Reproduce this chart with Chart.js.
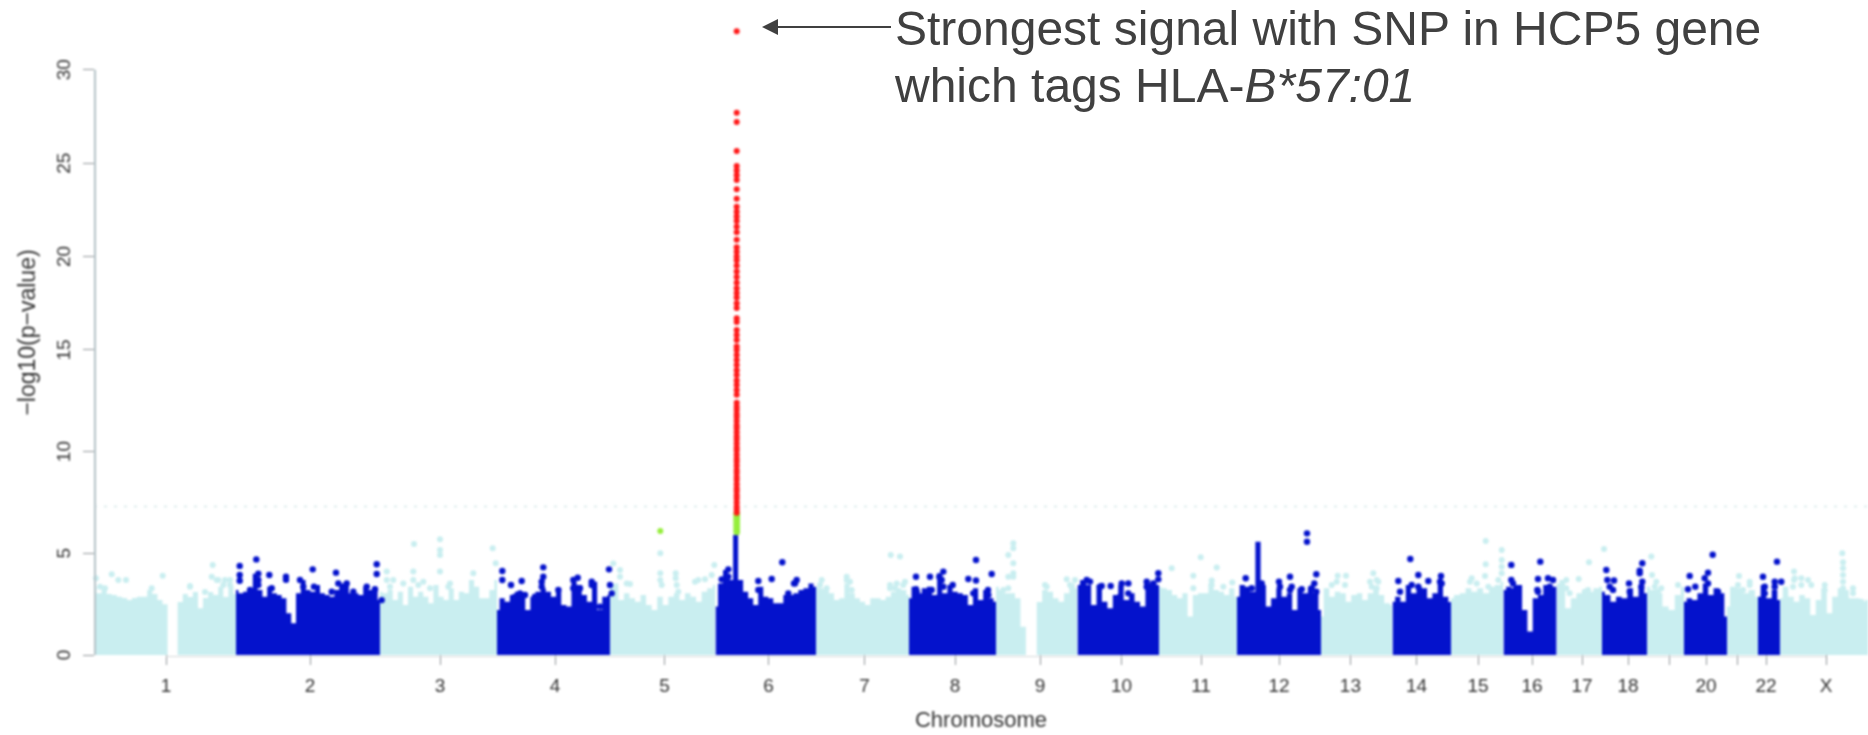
<!DOCTYPE html>
<html>
<head>
<meta charset="utf-8">
<title>Manhattan plot</title>
<script src="https://cdn.jsdelivr.net/npm/chart.js@4/dist/chart.umd.min.js"></script>
<style>
  html, body { margin: 0; padding: 0; background: #fff; }
  #wrap { position: relative; width: 1868px; height: 735px; overflow: hidden; }
  #plot { position: absolute; left: 0; top: 0; filter: blur(1px); }
  #note { position: absolute; left: 895px; top: 0; font-family: "Liberation Sans", Arial, sans-serif;
          font-size: 48px; line-height: 57px; color: #404040; white-space: nowrap; }
  #arrow { position: absolute; left: 755px; top: 10px; }
</style>
</head>
<body>
<div id="wrap">
  <canvas id="plot" width="1868" height="735"></canvas>
  <svg id="arrow" width="145" height="34">
    <line x1="20" y1="17" x2="136" y2="17" stroke="#404040" stroke-width="2"/>
    <polygon points="7,17 23,9 23,25" fill="#404040"/>
  </svg>
  <div id="note">Strongest signal with SNP in HCP5 gene<br>which tags HLA-<i>B*57:01</i></div>
</div>
<script>
// 染色体名称和刻度（x 轴单位：基因组累计位置）
var chromNames = ['1','2','3','4','5','6','7','8','9','10','11','12','13','14','15','16','17','18','','20','','22','X'];
var chromTicks = [72,216,346,461,570.5,674.6,770.5,861,946,1027.6,1107,1185,1256.4,1322.6,1384,1438,1488,1534,1575,1612,1643,1672,1732];
var chromEdges = [0,142,286,403,516,621.5,722,815,902,983.5,1065,1143,1227,1298.5,1357,1409.5,1462.6,1508,1553,1590,1633,1664,1686,1774];
var yTickStep = 5;
var threshold = 7.3;

// 每条染色体密集区的上沿 -log10(p)
var chr1Top = [3.36,3.03,3.3,3.0,2.95,2.87,2.8,2.7,2.8,2.87,2.87,3.2,3.0,2.7,2.5,0,0,2.6,3.0,2.85,3.1,2.3,2.8,3.1,2.95,3.35,2.85,3.4,3.0];
var chr2Top = [3.2,3.03,3.11,3.2,4.0,3.2,2.87,3.36,3.03,2.95,2.79,2.05,1.56,3.03,3.69,3.2,3.11,3.44,3.03,2.95,2.87,3.2,3.52,3.52,3.03,3.03,2.95,3.36,3.2,3.28,2.7];
var chr3Top = [3.11,3.03,3.2,2.7,3.11,2.46,3.36,2.87,3.11,2.87,2.54,3.44,2.87,2.7,3.28,2.7,3.11,3.03,3.69,3.36,2.79,2.79,3.2,3.69];
var chr4Top = [2.21,2.79,2.62,2.95,3.11,3.03,2.21,2.87,3.11,3.28,3.11,2.87,3.28,2.46,2.38,3.6,3.44,2.95,2.62,3.6,2.21,2.87,2.95];
var chr5Top = [3.36,3.52,2.7,3.03,2.79,2.62,2.95,2.46,2.21,2.87,2.46,2.87,3.03,2.7,3.03,2.87,2.62,3.11,3.28,3.44];
var chr6Top = [2.38,3.52,4.18,3.69,5.9,3.69,3.11,2.79,2.46,3.36,2.87,2.79,2.54,2.54,2.95,2.95,3.03,3.2,3.28,3.52,3.36];
var chr7Top = [3.36,3.28,3.2,3.03,2.7,2.79,3.52,3.03,2.79,2.62,2.46,2.79,2.79,2.7,2.87,3.11,3.28,3.2,2.95];
var chr8Top = [2.79,3.36,3.03,3.28,3.36,2.95,4.02,3.03,3.44,3.11,3.03,2.95,2.46,3.28,2.7,3.2,2.79,2.62];
var chr9Top = [3.36,3.2,3.03,3.03,2.79,1.39,0,0,2.6,3.2,3.11,2.79,2.62,3.03,3.52,3.28];
var chr10Top = [3.44,3.69,3.44,2.46,3.44,2.62,2.3,2.95,3.44,2.7,3.03,2.62,2.38,3.52,3.6,3.44];
var chr11Top = [3.36,3.28,3.2,2.95,2.79,3.03,1.89,2.95,3.03,3.03,3.52,3.2,3.11,2.95,3.28,2.87];
var chr12Top = [2.87,3.44,3.36,3.11,5.57,3.44,2.38,2.79,3.28,2.87,3.03,2.21,3.28,3.03,3.36,3.03,2.21];
var chr13Top = [1.89,3.28,2.87,3.11,3.03,2.62,2.95,3.03,2.7,3.03,3.36,2.95,2.54,2.46];
var chr14Top = [2.62,2.87,2.62,3.44,3.03,3.36,3.28,2.79,3.03,3.52,2.87,2.6];
var chr15Top = [2.79,2.95,3.03,3.28,3.11,3.28,3.03,3.36,3.44,3.6];
var chr16Top = [3.2,3.36,3.28,3.44,2.21,1.15,2.79,2.95,3.44,3.36,3.36];
var chr17Top = [3.52,3.69,2.3,2.79,3.03,3.03,3.11,3.28,3.36];
var chr18Top = [3.11,2.95,2.62,2.87,2.79,3.28,2.87,3.36,3.03];
var chr19Top = [3.36,3.2,3.03,2.38,2.21,2.95,3.36];
var chr20Top = [2.62,2.79,2.7,3.03,3.52,2.95,3.28,3.03,1.89];
var chr21Top = [2.38,3.36,3.28,3.03,3.2,2.87];
var chr22Top = [2.87,3.44,2.79,3.2,2.7];
var chrXTop = [2.79,3.36,2.87,2.62,2.95,2.79,1.97,2.7,3.28,2.05,2.87,3.28,3.2,2.79,2.79,2.62,2.7];
var chromTops = [chr1Top,chr2Top,chr3Top,chr4Top,chr5Top,chr6Top,chr7Top,chr8Top,chr9Top,chr10Top,chr11Top,chr12Top,chr13Top,chr14Top,chr15Top,chr16Top,chr17Top,chr18Top,chr19Top,chr20Top,chr21Top,chr22Top,chrXTop];

// 密集区上方的散点
var lightDotX = [2,17.7,24.3,32,68.7,118.7,117.7,124.3,131,136,96,6,11,57.7,96,111,122.7,129.3,136,320,346,346,346,319.3,346,292.7,299.3,309.3,329.3,292.7,296,319.3,324.3,336,354.3,398.7,401.7,379.3,356,566.3,566.3,566.3,581.7,581.7,536,526,526,620.3,601,519.3,611,532.7,567.7,582.7,584.3,604.3,617.7,796.7,806,727.7,752.7,756,802.7,811,796,752.7,757.7,796,801,809.3,726,732.7,919.3,919.3,914.3,919.3,919.3,919.3,914.3,951,972.7,977.7,914.3,909.3,952.7,976,981,1106.7,1077.7,1099.3,1122.7,1138.3,1117.7,1099.3,1117.7,1129.3,1243.7,1252,1279.3,1276,1284.3,1282.7,1237.7,1242.7,1251,1277.7,1282.7,1391.7,1391.7,1391,1407.7,1407.7,1407.7,1407.7,1377.7,1382.7,1376,1394.3,1404.3,1510,1495,1484.7,1472.3,1472.3,1475.7,1490.7,1494,1557.3,1558,1562.3,1567.3,1560.7,1564,1584,1645,1655.7,1644,1655.7,1649,1748.3,1749,1749,1749,1749,1700,1700,1707.3,1717.3,1730.7,1759,1699,1707.3,1714,1730.7,1749,1759,1767.3,1700.7];
var lightDotY = [3.77,3.97,3.69,3.69,3.9,4.43,3.85,3.69,3.69,3.44,3.39,3.36,3.28,3.28,3.36,3.1,3.69,3.44,3.69,5.46,5.69,5.16,4.92,4.1,4.1,4.1,3.69,3.52,3.6,3.69,3.36,3.69,3.44,3.28,3.36,5.25,4.51,4.02,3.52,5.0,4.02,3.69,4.02,3.77,3.49,4.18,3.85,4.43,3.6,4.5,3.72,3.52,3.44,3.44,3.11,3.69,3.93,4.92,4.84,3.69,3.85,3.6,3.52,3.6,3.44,3.69,3.2,3.28,3.28,3.44,3.44,3.28,5.49,5.25,4.92,4.51,4.02,3.85,3.85,3.44,3.72,3.36,3.28,3.2,3.36,3.44,3.69,4.8,4.26,3.9,4.3,3.57,3.66,3.28,3.44,3.36,3.9,3.9,4.02,3.6,3.6,3.28,3.44,3.6,3.44,3.36,3.69,5.61,4.46,3.89,5.16,4.67,4.34,4.02,3.77,3.52,3.6,3.36,3.69,5.21,4.56,3.74,3.69,3.28,3.03,3.11,3.2,4.84,3.93,3.6,3.28,3.36,3.11,3.44,3.89,3.6,3.44,3.44,3.2,5.0,4.56,4.26,3.93,3.6,4.1,3.69,3.77,3.44,3.44,3.28,3.36,3.44,3.69,3.2,3.28,3.03,2.62,3.77];
var blueDotX = [145.7,145.7,145.7,162.3,175.3,192,192,218.7,242,282.7,282.7,244.3,252.7,156,164.3,164.3,164.3,177.7,206,209.3,220,237.7,249.3,259.3,272.7,281,287.7,408.3,408.3,417,427.7,449.3,449.3,447.7,479.3,483.7,497.7,515,516,421,426,431,441,447.7,464.3,479.3,486,497.7,506,517.7,688.3,664.3,677.7,702.7,700,634.3,627.7,634.3,627.7,634.3,664.3,694.3,701,882,897.7,849.3,845.3,836,822,874.3,882,822,858.7,894,847.7,849.3,837.7,822.7,879.3,894.3,1016.7,1027.7,1034.3,1007.7,1064.3,1064.3,1052.7,992.7,989.3,996,1006,1052.7,1059.3,1026,1034.3,1213,1213,1151.7,1196,1222.3,1220.3,1185,1207.7,1197.7,1222.3,1157.7,1186,1196,1217.7,1167.7,1316.3,1324.3,1304.3,1334.3,1347,1306,1346,1324.3,1347.7,1317.7,1417.3,1446.3,1444,1454,1459,1443.3,1417.3,1419,1422.3,1455.7,1444,1512.3,1513.3,1520,1535,1548.3,1545.7,1548.3,1515.7,1519,1547.3,1545.7,1535.7,1618.7,1595.7,1614,1610.7,1594,1601.3,1614,1624,1683,1669,1680.7,1687.3,1670.7,1680.7,1670.7];
var blueDotY = [4.38,3.93,3.65,4.7,3.93,3.85,3.7,4.21,4.05,4.46,3.98,3.52,3.52,3.2,4.0,3.69,3.44,3.28,3.69,3.36,3.36,3.11,3.28,3.11,3.36,3.23,2.7,4.13,3.69,3.44,3.64,4.31,3.85,3.6,3.69,3.8,3.6,4.21,3.44,2.87,3.03,2.95,2.87,3.36,3.2,3.28,3.28,3.44,2.38,3.03,4.56,3.64,3.74,3.69,3.52,4.21,3.72,3.85,3.36,3.44,3.2,3.03,3.52,4.67,3.98,4.1,3.85,3.85,3.85,3.74,3.66,3.23,3.44,3.2,3.69,3.36,3.2,3.11,3.03,2.95,3.39,3.52,3.52,3.39,4.02,3.72,3.6,3.69,3.52,3.61,3.36,3.36,3.52,2.87,3.03,5.98,5.57,3.77,3.85,3.97,3.52,3.6,3.23,3.36,3.11,3.28,3.36,3.2,3.28,3.52,4.72,3.93,3.64,3.64,3.89,3.11,3.6,3.36,3.52,3.44,4.43,4.59,3.74,3.77,3.69,3.2,3.69,3.52,3.28,3.36,3.11,4.18,3.69,3.66,3.52,4.51,4.15,3.6,3.36,3.2,3.36,4.02,3.11,4.93,3.89,4.05,3.77,3.23,3.36,3.52,3.11,4.59,3.85,3.6,3.6,3.36,3.36,3.03];

// 6 号染色体 HCP5 位点
var peakPos = 642.7;
var peakRed = [7.0,7.15,7.3,7.5,7.7,7.85,8.05,8.2,8.4,8.6,8.75,8.95,9.1,9.3,9.5,9.65,9.85,10.05,10.2,10.4,10.6,10.75,10.95,11.15,11.3,11.5,11.7,11.85,12.05,12.2,12.4,12.79,13.03,13.28,13.5,13.77,14.0,14.26,14.5,14.75,15.0,15.18,15.53,15.8,16.07,16.5,16.7,17.25,17.5,17.8,18.05,18.3,18.6,18.9,19.2,19.5,19.8,20.0,20.25,20.5,20.9,21.3,21.6,21.9,22.15,22.4,22.67,23.1,23.6,24.1,24.35,24.6,24.85,25.65,27.2,27.7,32.06];
var peakGreen = [6.05,6.2,6.35,6.5,6.65,6.8,6.95];
var chr5GreenX = [566.3];
var chr5GreenY = [6.1];

var lightColor = '#c9eef0';
var blueColor = '#0412cc';
var redColor = '#ff1a1a';
var greenColor = '#95ee3c';
var axisColor = '#b4c2c7';
var tickColor = '#8f9698';
var textColor = '#333333';

// 图片的 y 轴在 15 处有折点：下段和上段每单位像素不一样
class BrokenLinearScale extends Chart.LinearScale {
    getPixelForValue(value) {
        var breakValue = 15, breakShare = 0.473;
        if (value === null) { return NaN; }
        var share = value <= breakValue
            ? value / breakValue * breakShare
            : breakShare + (value - breakValue) / (this.max - breakValue) * (1 - breakShare);
        return this.getPixelForDecimal(share);
    }
}
BrokenLinearScale.id = 'brokenLinear';
BrokenLinearScale.defaults = Chart.LinearScale.defaults;
Chart.register(BrokenLinearScale);

function zipPoints(xs, ys) {
    return xs.map(function (x, i) { return {x: x, y: ys[i]}; });
}

var datasets = [];
chromTops.forEach(function (tops, c) {
    var start = chromEdges[c], end = chromEdges[c + 1];
    datasets.push({
        type: 'scatter',
        data: tops.map(function (v, i) { return {x: start + (end - start) * i / (tops.length - 1), y: v}; }),
        showLine: true,
        stepped: 'middle',
        fill: 'origin',
        pointRadius: 0,
        borderWidth: 0,
        backgroundColor: c % 2 ? blueColor : lightColor,
        order: c % 2 ? 3 : 5
    });
});
function dots(points, color, radius, order) {
    return {type: 'scatter', data: points, pointRadius: radius, pointBorderWidth: 0,
            pointBackgroundColor: color, showLine: false, order: order, clip: false};
}
datasets.push(dots(zipPoints(lightDotX, lightDotY), lightColor, 3, 4));
datasets.push(dots(zipPoints(blueDotX, blueDotY), blueColor, 3.2, 2));
datasets.push(dots(peakGreen.map(function (v) { return {x: peakPos, y: v}; }), greenColor, 3.4, 1));
datasets.push(dots(zipPoints(chr5GreenX, chr5GreenY), greenColor, 3, 1));
datasets.push(dots(peakRed.map(function (v) { return {x: peakPos, y: v}; }), redColor, 3, 0));
// 全基因组显著性阈值
datasets.push({type: 'scatter', showLine: true, pointRadius: 0, borderWidth: 2, borderDash: [3, 7],
    borderColor: '#dfeeee', data: [{x: 0, y: threshold}, {x: chromEdges[23], y: threshold}], order: 6});

// 轴线：y 只画到 30，x 只画第一个到最后一个刻度
var axisLines = {
    id: 'axisLines',
    afterDraw: function (chart) {
        var c = chart.ctx, xs = chart.scales.x, ys = chart.scales.y;
        c.save();
        c.strokeStyle = axisColor;
        c.lineWidth = 2;
        c.beginPath();
        c.moveTo(xs.left + 1, ys.getPixelForValue(0));
        c.lineTo(xs.left + 1, ys.getPixelForValue(30));
        c.stroke();
        c.lineWidth = 1;
        c.strokeStyle = '#d5d8d9';
        c.beginPath();
        c.moveTo(xs.getPixelForValue(chromTicks[0]), ys.bottom + 1.5);
        c.lineTo(xs.getPixelForValue(chromTicks[22]), ys.bottom + 1.5);
        c.stroke();
        c.restore();
    }
};

// 不让刻度文字把绘图区往里挤
function noLabelPadding(s) {
    s.paddingLeft = s.paddingRight = s.paddingTop = s.paddingBottom = 0;
}

new Chart(document.getElementById('plot'), {
    type: 'scatter',
    data: {datasets: datasets},
    plugins: [axisLines],
    options: {
        responsive: false,
        animation: false,
        layout: {padding: {top: 10}, autoPadding: false},  // 点的半径也会撑出 padding，关掉
        plugins: {legend: {display: false}, tooltip: {enabled: false}},
        scales: {
            x: {
                type: 'linear',
                min: 0,
                max: chromEdges[23],
                afterBuildTicks: function (s) { s.ticks = chromTicks.map(function (v) { return {value: v}; }); },
                afterFit: function (s) { s.height = 80; noLabelPadding(s); },
                border: {display: false},
                grid: {drawOnChartArea: false, drawTicks: true, tickLength: 10, color: tickColor},
                ticks: {
                    autoSkip: false, maxRotation: 0, padding: 10, color: textColor,
                    font: {family: 'Liberation Sans', size: 19},
                    callback: function (v, i) { return chromNames[i]; }
                },
                title: {display: true, text: 'Chromosome', color: textColor,
                    font: {family: 'Liberation Sans', size: 22}, padding: {top: 0, bottom: 1}}
            },
            y: {
                type: 'brokenLinear',
                min: 0,
                max: 33.2,
                afterFit: function (s) { s.width = 94; noLabelPadding(s); },
                border: {display: false},
                grid: {drawOnChartArea: false, drawTicks: true, tickLength: 11, color: tickColor},
                ticks: {
                    stepSize: yTickStep, includeBounds: false, minRotation: 90, maxRotation: 90,
                    crossAlign: 'center', padding: 8, color: textColor,
                    font: {family: 'Liberation Sans', size: 19}
                },
                title: {display: true, text: '\u2212log10(p\u2212value)', color: textColor,
                    font: {family: 'Liberation Sans', size: 23}, padding: {top: 15, bottom: 0}}
            }
        }
    }
});
</script>
</body>
</html>
